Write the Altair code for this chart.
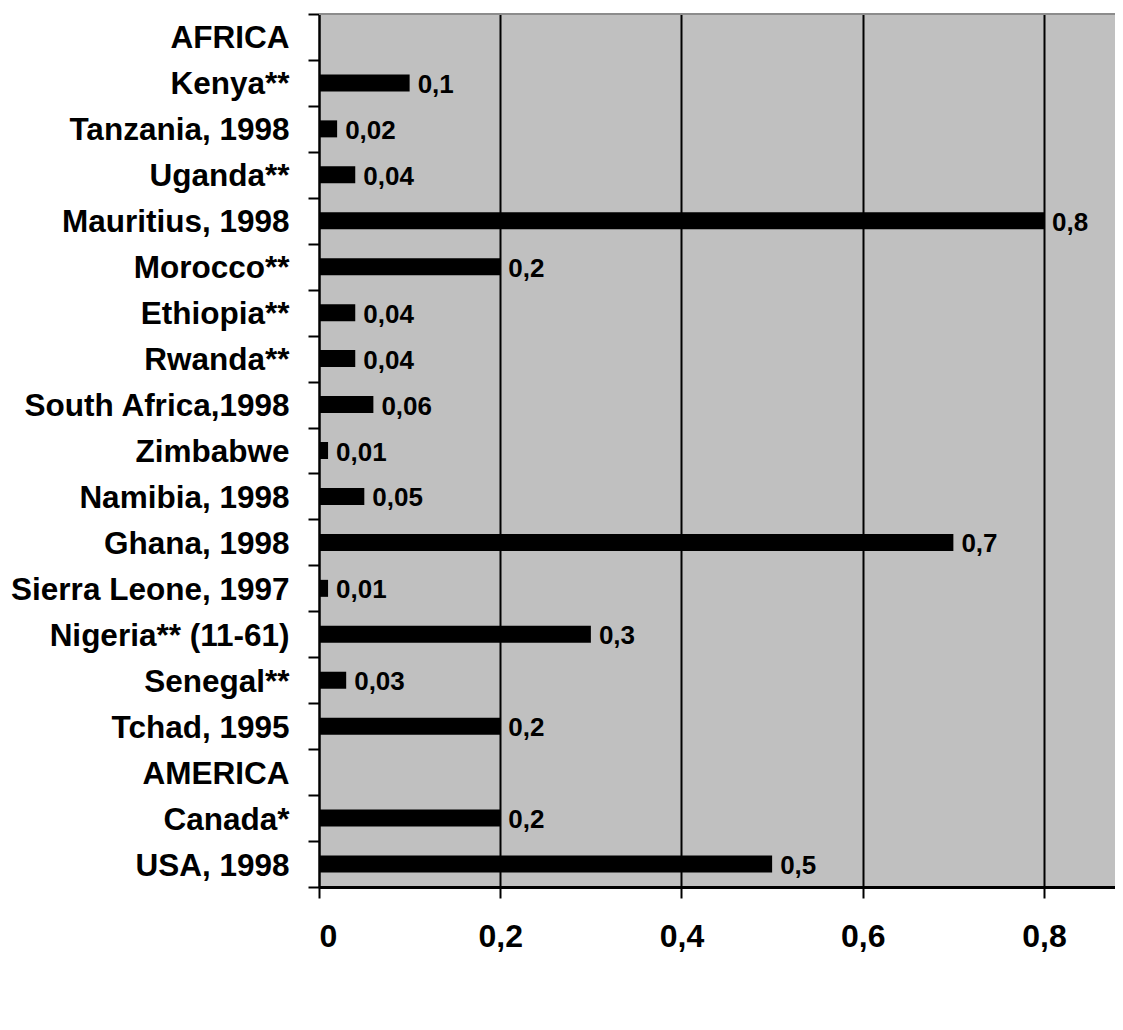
import altair as alt
import pandas as pd

categories = [
    "AFRICA", "Kenya**", "Tanzania, 1998", "Uganda**", "Mauritius, 1998",
    "Morocco**", "Ethiopia**", "Rwanda**", "South Africa,1998", "Zimbabwe",
    "Namibia, 1998", "Ghana, 1998", "Sierra Leone, 1997", "Nigeria** (11-61)",
    "Senegal**", "Tchad, 1995", "AMERICA", "Canada*", "USA, 1998",
]
values = [
    None, 0.1, 0.02, 0.04, 0.8,
    0.2, 0.04, 0.04, 0.06, 0.01,
    0.05, 0.7, 0.01, 0.3,
    0.03, 0.2, None, 0.2, 0.5,
]
x_ticks = [0, 0.2, 0.4, 0.6, 0.8]

df = pd.DataFrame({"country": categories, "value": values})

FONT = "Liberation Sans"
W, H = 796, 873

y_enc = alt.Y(
    "country:N",
    sort=None,
    scale=alt.Scale(domain=categories, paddingInner=0, paddingOuter=0),
    axis=alt.Axis(
        title=None, tickBand="extent", tickSize=11, tickWidth=2, tickColor="black",
        domainColor="black", domainWidth=2, labelFont=FONT, labelFontSize=31.5,
        labelFontWeight="bold", labelColor="black", labelPadding=19, labelLimit=400,
        labelOffset=2,
    ),
)
x_enc = alt.X(
    "value:Q",
    scale=alt.Scale(domain=[0, 0.8 * W / 725], nice=False, zero=True),
    axis=alt.Axis(
        title=None, values=x_ticks, tickSize=11, tickWidth=2, tickColor="black",
        domainColor="black", domainWidth=3, grid=True, gridColor="black", gridWidth=2,
        gridOpacity=1, labelFont=FONT, labelFontSize=32, labelFontWeight="bold",
        labelColor="black", labelPadding=23,
        labelExpr="datum.value == 0 ? '0' : replace(format(datum.value, '.1f'), '.', ',')",
    ),
)

base = alt.Chart(df).transform_filter("datum.value != null")

bars = base.mark_bar(color="black", size=17).encode(x=x_enc, y=y_enc)

text = base.transform_calculate(
    label="replace(toString(datum.value), '.', ',')"
).mark_text(
    align="left", baseline="middle", dx=8, dy=2, font=FONT, fontSize=26,
    fontWeight="bold", color="black",
).encode(x="value:Q", y=alt.Y("country:N", sort=None), text="label:N")

top_line = alt.Chart(alt.Data(values=[{"a": 1}])).mark_rule(
    color="#8c8c8c", strokeWidth=2
).encode(x=alt.value(0), x2=alt.value(W), y=alt.value(0))

chart = alt.layer(bars, text, top_line).properties(
    width=W, height=H,
    autosize=alt.AutoSizeParams(type="none"),
    padding={"left": 311, "top": 6, "right": 0, "bottom": 120},
).configure_view(fill="#c0c0c0", stroke=None)

chart.save("out.html", embed_options={"renderer": "svg", "actions": False})
